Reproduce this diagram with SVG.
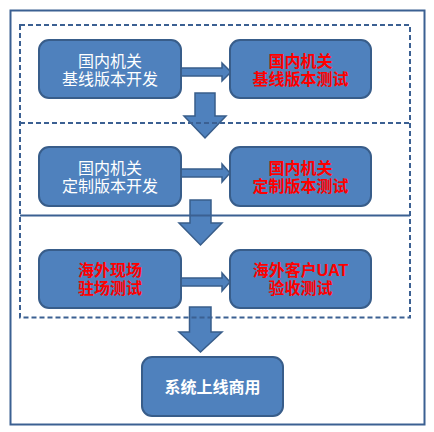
<svg xmlns="http://www.w3.org/2000/svg" width="434" height="432" viewBox="0 0 434 432">
<style>
.box{fill:#4f81bd;stroke:#385d8a;stroke-width:2}
.arr{fill:#4f81bd;stroke:#385d8a;stroke-width:1.5;stroke-linejoin:miter}
.frame{fill:none;stroke:#3b6092;stroke-width:2}
.dash{stroke-dasharray:5 3}
text{font-family:"Liberation Sans","Noto Sans CJK SC",sans-serif;font-size:16px;text-anchor:middle}
.w{fill:#ffffff}
.r{fill:#ff0000;font-weight:bold}
.wb{fill:#ffffff;font-weight:bold}
</style>
<rect x="0" y="0" width="434" height="432" fill="#ffffff"/>
<g id="connectors">
<polygon class="arr" points="181,68 222,68 222,63 231,72 222,81 222,76 181,76"/>
<polygon class="arr" points="181,169 222,169 222,164 230,173 222,182 222,177 181,177"/>
<polygon class="arr" points="181,278 222,278 222,273 230,282 222,291 222,286 181,286"/>
<polygon class="arr" points="195,93 215,93 215,116 226,116 205,138 184,116 195,116"/>
<polygon class="arr" points="190,200 211,200 211,223 222,223 200.5,245 179,223 190,223"/>
<polygon class="arr" points="189.5,307 211,307 211,332 222,332 200.5,352 179,332 189.5,332"/>
</g>
<g id="frames">
<rect class="frame" x="10.5" y="10.5" width="414" height="414"/>
<rect class="frame dash" x="20" y="25" width="390" height="292.5"/>
<line class="frame dash" x1="20" y1="123" x2="410" y2="123"/>
<line class="frame" x1="20" y1="215.5" x2="410" y2="215.5"/>
</g>
<g id="n1"><rect class="box" x="39" y="40" width="142" height="58" rx="10"/>
<text class="w" x="110" y="66.5">国内机关<tspan x="110" dy="18">基线版本开发</tspan></text></g>
<g id="n2"><rect class="box" x="230" y="40" width="141" height="58" rx="10"/>
<text class="r" x="300.5" y="66.5">国内机关<tspan x="300.5" dy="18">基线版本测试</tspan></text></g>
<g id="n3"><rect class="box" x="39" y="147" width="142" height="59" rx="10"/>
<text class="w" x="110" y="174">国内机关<tspan x="110" dy="18">定制版本开发</tspan></text></g>
<g id="n4"><rect class="box" x="230" y="147" width="141" height="59" rx="10"/>
<text class="r" x="300.5" y="174">国内机关<tspan x="300.5" dy="18">定制版本测试</tspan></text></g>
<g id="n5"><rect class="box" x="39" y="250" width="142" height="58" rx="10"/>
<text class="r" x="110" y="275.5">海外现场<tspan x="110" dy="18">驻场测试</tspan></text></g>
<g id="n6"><rect class="box" x="230" y="250" width="141" height="58" rx="10"/>
<text class="r" x="300.5" y="275.5">海外客户UAT<tspan x="300.5" dy="18">验收测试</tspan></text></g>
<g id="n7"><rect class="box" x="142" y="357" width="141" height="59" rx="10"/>
<text class="wb" x="212.5" y="392.5">系统上线商用</text></g>
</svg>
